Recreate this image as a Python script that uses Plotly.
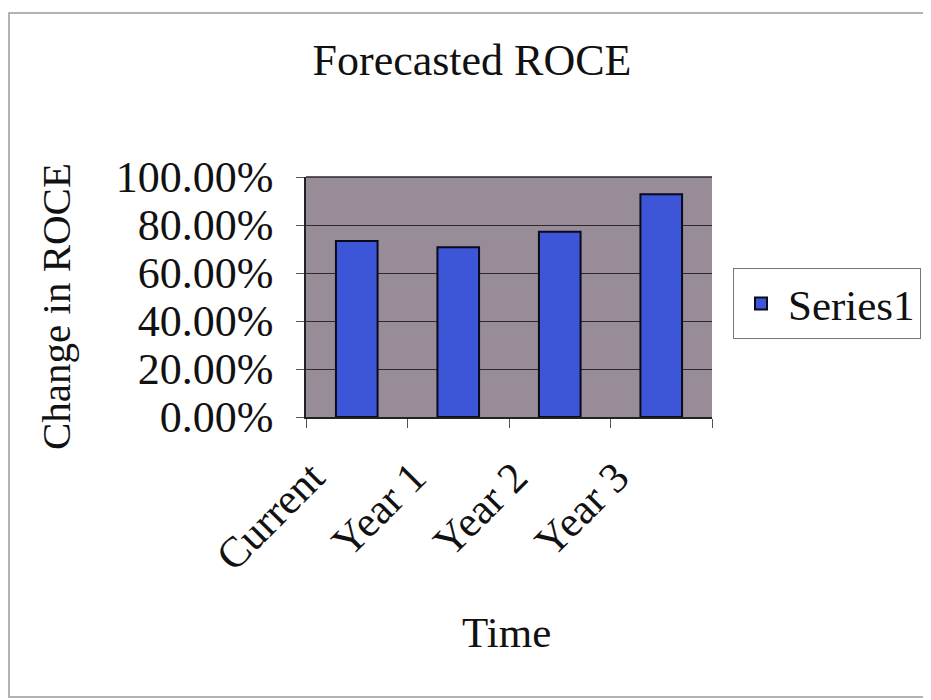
import plotly.graph_objects as go

categories = ["Current", "Year 1", "Year 2", "Year 3"]
roce = [0.733, 0.707, 0.772, 0.928]
series_name = "Series1"
y_ticks = [0, 0.2, 0.4, 0.6, 0.8, 1.0]

FONT = "Liberation Serif, Times New Roman, serif"

# page offset (body margin)
OFF = 8
# plot area in page pixels
L, R, T, B = 306, 712, 177, 417
W, H = 931 - OFF, 700 - OFF
pw, ph = R - L, B - T

def px(x):
    return (x - L) / pw

def py(y):
    return (B - y) / ph

fig = go.Figure()
fig.add_trace(go.Bar(
    x=categories, y=roce, name=series_name,
    marker=dict(color="#3d56d8", line=dict(color="#0a0a1a", width=2)),
    width=0.41,
))

fig.update_layout(
    width=W, height=H,
    margin=dict(l=L - OFF, r=W - (R - OFF), t=T - OFF, b=H - (B - OFF), autoexpand=False),
    paper_bgcolor="white",
    plot_bgcolor="#978c97",
    font=dict(family=FONT, size=44, color="#111111"),
    showlegend=True,
    legend=dict(
        x=px(733), y=py(268), xanchor="left", yanchor="top",
        bordercolor="#777777", borderwidth=1, bgcolor="white",
        font=dict(family=FONT, size=43, color="#111111"),
        itemwidth=44,
    ),
    title=dict(
        text="Forecasted ROCE", x=(472 - OFF) / W, xref="container", xanchor="center",
        y=1 - (60 - OFF) / H, yref="container", yanchor="middle",
        font=dict(family=FONT, size=44, color="#111111"),
    ),
    bargap=0.59,
)

fig.update_xaxes(
    type="category", tickangle=-45, tickson="boundaries",
    ticks="outside", ticklen=9, tickcolor="#555555",
    showline=True, linecolor="#222222", linewidth=1.5,
    showgrid=False,
    ticklabelshift=-45, ticklabelstandoff=16,
    tickfont=dict(family=FONT, size=43, color="#111111"),
)
fig.update_yaxes(
    range=[0, 1.0], tickvals=y_ticks, tickformat=".2%",
    ticks="outside", ticklen=8, tickcolor="#555555",
    showline=True, linecolor="#222222", linewidth=1.5,
    showgrid=True, gridcolor="#2a2a2a", gridwidth=1,
    zeroline=False,
    ticklabelstandoff=14,
    tickfont=dict(family=FONT, size=44, color="#111111"),
)

# top border of plot area
fig.add_shape(type="line", xref="paper", yref="paper", x0=0, x1=1, y0=1, y1=1,
              line=dict(color="#2a2a2a", width=1.5))

# chart frame
fig.add_shape(type="rect", xref="paper", yref="paper",
              x0=px(9), x1=px(945), y0=py(13), y1=py(697),
              line=dict(color="#9a9a9a", width=1.5), layer="below")

fig.add_annotation(text="Change in ROCE", textangle=-90, xref="paper", yref="paper",
                   x=px(56), y=py(307), xanchor="center", yanchor="middle",
                   showarrow=False, font=dict(family=FONT, size=41, color="#111111"))
fig.add_annotation(text="Time", xref="paper", yref="paper",
                   x=px(506), y=py(632), xanchor="center", yanchor="middle",
                   showarrow=False, font=dict(family=FONT, size=43, color="#111111"))

fig.write_html("out.html")
